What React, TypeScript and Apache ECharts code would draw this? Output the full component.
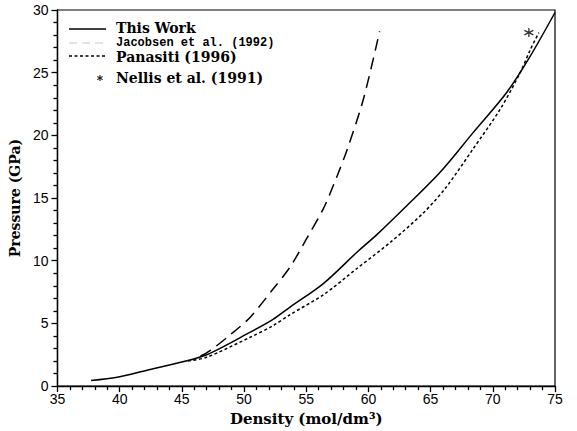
import React, { useEffect, useRef } from "react";
import * as echarts from "echarts";

// This Work (solid)
const thisWorkDensity = [37.7, 39.8, 42.2, 44.9, 47.0, 50.5, 52.3, 53.7, 56.4, 59.1, 60.7, 63.1, 65.8, 68.4, 71.1, 73.0, 75.0];
const thisWorkPressure = [0.45, 0.71, 1.27, 1.9, 2.5, 4.3, 5.3, 6.3, 8.2, 10.7, 12.1, 14.4, 17.1, 20.2, 23.4, 26.3, 29.8];

// Jacobsen et al. (1992) (dashed)
const jacobsenDensity = [46.5, 47.3, 48.9, 50.5, 52.3, 53.7, 55.05, 56.4, 57.5, 58.3, 59.6, 60.9];
const jacobsenPressure = [2.4, 2.85, 4.1, 5.5, 7.7, 9.5, 11.8, 14.2, 16.8, 18.9, 22.9, 28.3];

// Panasiti (1996) (dotted)
const panasitiDensity = [45.5, 47.0, 50.5, 52.3, 53.7, 56.4, 59.1, 61.8, 64.4, 66.2, 68.4, 70.6, 72.2, 73.0, 73.7];
const panasitiPressure = [2.0, 2.3, 3.9, 4.8, 5.7, 7.3, 9.4, 11.5, 13.8, 15.8, 18.9, 22.1, 25.0, 26.8, 28.2];

// Nellis et al. (1991) (asterisk)
const nellisDensity = [72.9];
const nellisPressure = [28.2];

const legendLabels = ["This Work", "Jacobsen et al. (1992)", "Panasiti (1996)", "Nellis et al. (1991)"];

const xTicks = { min: 35, max: 75, interval: 5 };
const yTicks = { min: 0, max: 30, interval: 5 };

const pair = (xs: number[], ys: number[]) => xs.map((x, i) => [x, ys[i]]);

const SERIF = "'DejaVu Serif', 'Liberation Serif', serif";
const SANS = "'Liberation Sans', Arial, sans-serif";
const MONO = "'Liberation Mono', 'DejaVu Sans Mono', monospace";

export default function App() {
  const ref = useRef<HTMLDivElement>(null);
  useEffect(() => {
    const chart = echarts.init(ref.current!, null, { renderer: "svg" });
    chart.setOption({
      animation: false,
      backgroundColor: "#fff",
      grid: {
        left: 57,
        right: 22,
        top: 10,
        bottom: 42,
        show: true,
        borderColor: "#000",
        borderWidth: 1.2,
      },
      xAxis: {
        type: "value",
        min: xTicks.min,
        max: xTicks.max,
        interval: xTicks.interval,
        name: "Density (mol/dm³)",
        nameLocation: "middle",
        nameGap: 21,
        nameTextStyle: { fontFamily: SERIF, fontWeight: "bold", fontSize: 15, color: "#000" },
        axisLine: { lineStyle: { color: "#000", width: 1.4 } },
        axisTick: { show: true, length: 6, lineStyle: { color: "#000", width: 1.3 } },
        minorTick: { show: true, splitNumber: 5, length: 4, lineStyle: { color: "#000", width: 1.3 } },
        splitLine: { show: false },
        axisLabel: { color: "#000", fontFamily: SANS, fontSize: 14, margin: 6 },
      },
      yAxis: {
        type: "value",
        min: yTicks.min,
        max: yTicks.max,
        interval: yTicks.interval,
        name: "Pressure (GPa)",
        nameLocation: "middle",
        nameGap: 26,
        nameTextStyle: { fontFamily: SERIF, fontWeight: "bold", fontSize: 14, color: "#000" },
        axisLine: { lineStyle: { color: "#000", width: 1.4 } },
        axisTick: { show: true, length: 6, lineStyle: { color: "#000", width: 1.3 } },
        minorTick: { show: true, splitNumber: 5, length: 4, lineStyle: { color: "#000", width: 1.3 } },
        splitLine: { show: false },
        axisLabel: { color: "#000", fontFamily: SANS, fontSize: 14, margin: 9 },
      },
      series: [
        {
          name: legendLabels[0],
          type: "line",
          data: pair(thisWorkDensity, thisWorkPressure),
          showSymbol: false,
          smooth: 0.3,
          lineStyle: { color: "#000", width: 1.5, type: "solid" },
        },
        {
          name: legendLabels[1],
          type: "line",
          data: pair(jacobsenDensity, jacobsenPressure),
          showSymbol: false,
          smooth: 0.3,
          lineStyle: { color: "#000", width: 1.5, type: [12, 7] },
        },
        {
          name: legendLabels[2],
          type: "line",
          data: pair(panasitiDensity, panasitiPressure),
          showSymbol: false,
          smooth: 0.3,
          lineStyle: { color: "#000", width: 1.5, type: [3, 2.5] },
        },
        {
          name: legendLabels[3],
          type: "scatter",
          data: pair(nellisDensity, nellisPressure),
          symbol: "path://M5,0 L5,10 M0.7,2.5 L9.3,7.5 M0.7,7.5 L9.3,2.5",
          symbolSize: 9,
          itemStyle: { color: "rgba(0,0,0,0)", borderColor: "#000", borderWidth: 1.3 },
        },
      ],
      graphic: [
        { type: "line", shape: { x1: 69, y1: 29, x2: 106, y2: 29 }, style: { stroke: "#000", lineWidth: 1.5 } },
        {
          type: "text",
          x: 116,
          y: 28,
          style: { text: legendLabels[0], fontFamily: SERIF, fontWeight: "bold", fontSize: 14, lineHeight: 13, fill: "#000", verticalAlign: "middle" },
        },
        { type: "line", shape: { x1: 69, y1: 43, x2: 106, y2: 43 }, style: { stroke: "#c8c8c8", lineWidth: 1, lineDash: [8, 5] } },
        {
          type: "text",
          x: 116,
          y: 43,
          style: { text: legendLabels[1], fontFamily: MONO, fontWeight: "bold", fontSize: 12, lineHeight: 10, fill: "#000", verticalAlign: "middle" },
        },
        { type: "line", shape: { x1: 69, y1: 56, x2: 106, y2: 56 }, style: { stroke: "#000", lineWidth: 1.3, lineDash: [3, 2.5] } },
        {
          type: "text",
          x: 116,
          y: 57,
          style: { text: legendLabels[2], fontFamily: SERIF, fontWeight: "bold", fontSize: 14, lineHeight: 13, fill: "#000", verticalAlign: "middle" },
        },
        {
          type: "text",
          x: 100,
          y: 81,
          style: { text: "*", fontFamily: SERIF, fontWeight: "bold", fontSize: 12, lineHeight: 12, fill: "#000", align: "center", verticalAlign: "middle" },
        },
        {
          type: "text",
          x: 116,
          y: 78,
          style: { text: legendLabels[3], fontFamily: SERIF, fontWeight: "bold", fontSize: 14, lineHeight: 13, fill: "#000", verticalAlign: "middle" },
        },
      ],
    });
    return () => chart.dispose();
  }, []);
  return (
    <div
      ref={ref}
      style={{ position: "fixed", left: 0, top: 0, width: 577, height: 431, background: "#fff" }}
    />
  );
}
